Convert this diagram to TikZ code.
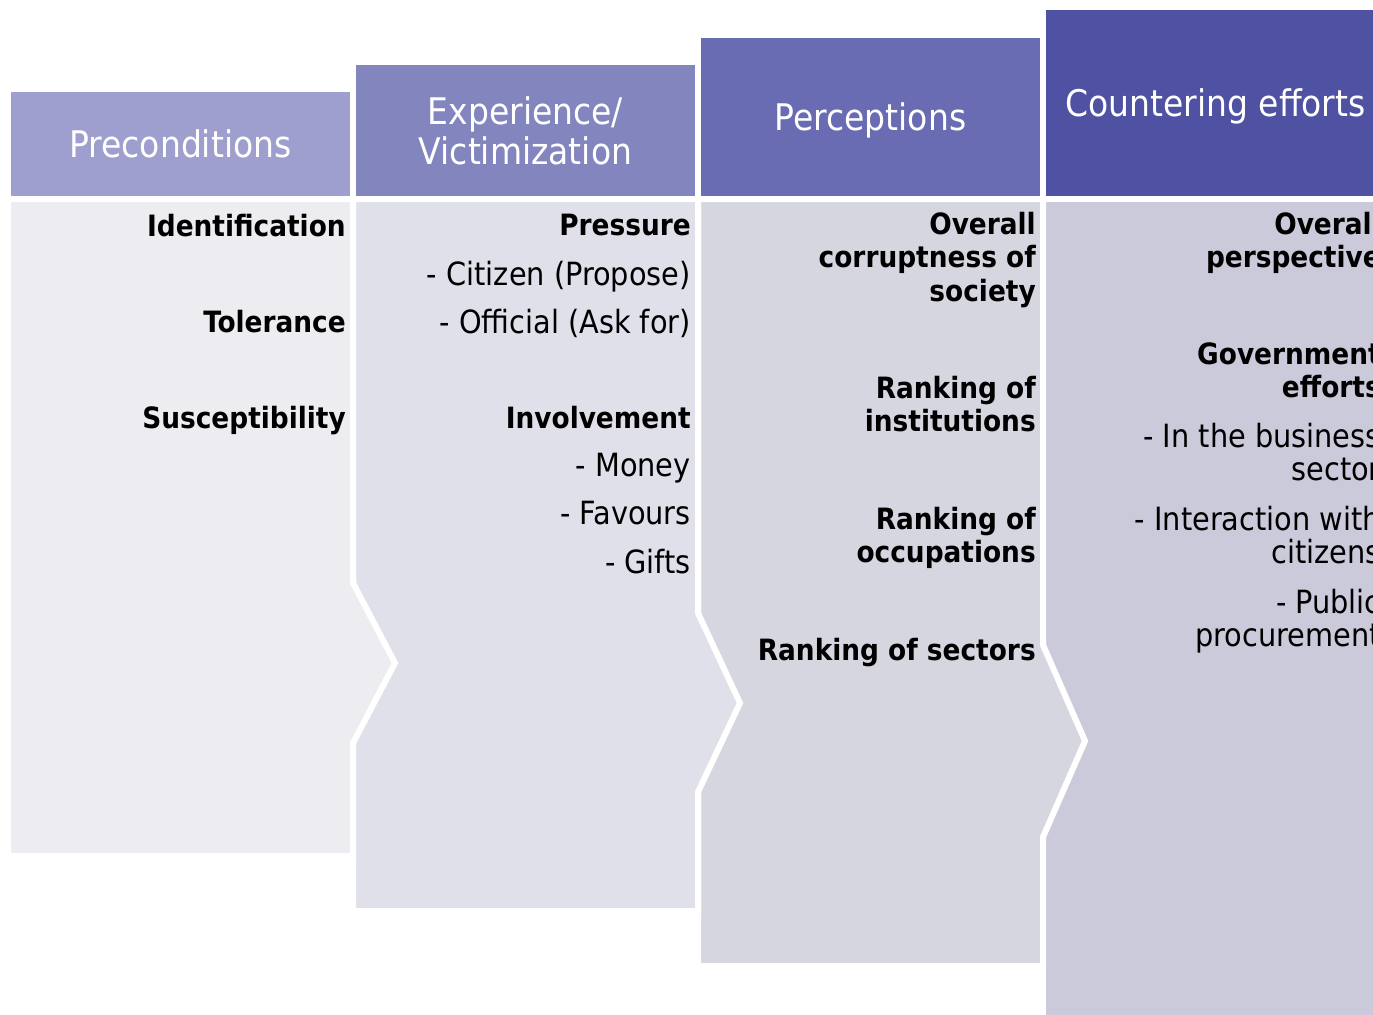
\documentclass[tikz,border=0pt]{standalone}
\usepackage{fontspec}
\setmainfont{DejaVu Sans Condensed}

\definecolor{headA}{HTML}{9E9FCE}
\definecolor{headB}{HTML}{8385BE}
\definecolor{headC}{HTML}{6A6CB3}
\definecolor{headD}{HTML}{4F52A3}
\definecolor{bodyA}{HTML}{ECECF1}
\definecolor{bodyB}{HTML}{E0E0EA}
\definecolor{bodyC}{HTML}{D6D6E1}
\definecolor{bodyD}{HTML}{CBCADA}

\begin{document}
\begin{tikzpicture}[x=0.75pt, y=-0.75pt,
    gap/.style={draw=white, line width=4.5pt, line join=miter},
    head/.style={gap, text=white, minimum width=258.75pt, inner sep=0pt,
        align=center, font=\fontsize{27.5}{30}\selectfont},
    topic/.style={anchor=east, inner sep=0pt, align=right,
        font=\fontsize{22}{25}\selectfont\bfseries},
    sub/.style={anchor=east, inner sep=0pt, align=right,
        font=\fontsize{24}{25}\selectfont},
    flat/.style={text depth=0pt}]
    \useasboundingbox (0,0) rectangle (1373,1014);
    \fill[white] (0,0) rectangle (1373,1014);
    \clip (0,0) rectangle (1373,1014);

    % bodies, last one first so each tip lies over its neighbour
    \path[gap, fill=bodyD] (1043,199) -- (1388,199) -- (1388,1030) -- (1043,1030) -- cycle;
    \path[gap, fill=bodyC] (698,199) -- (1043,199) -- (1043,645) -- (1085,741)
        -- (1043,837) -- (1043,966) -- (698,966) -- cycle;
    \path[gap, fill=bodyB] (353,199) -- (698,199) -- (698,613) -- (740,703)
        -- (698,792) -- (698,911) -- (353,911) -- cycle;
    \path[gap, fill=bodyA] (8,199) -- (353,199) -- (353,583) -- (395,663)
        -- (353,743) -- (353,856) -- (8,856) -- cycle;

    % headers
    \node[head, fill=headA, minimum height=82.5pt] (pre) at (180.5,144) {Preconditions};
    \node[head, fill=headB, minimum height=102.75pt] (exp) at (525.5,130.5) {Experience/\\Victimization};
    \node[head, flat, fill=headC, minimum height=123pt] (per) at (870.5,117) {Perceptions};
    \node[head, flat, fill=headD, minimum height=144pt] (cnt) at (1215.5,103) {Countering efforts};

    % preconditions
    \node[topic, flat] (ident) at (346,225) {Identification};
    \node[topic, flat] (toler) at (346,321) {Tolerance};
    \node[topic, flat] (susc) at (346,417) {Susceptibility};

    % experience
    \node[topic, flat] (press) at (691,225) {Pressure};
    \node[sub, flat] (citz) at (691,273) {- Citizen (Propose)};
    \node[sub, flat] (offc) at (691,321) {- Official (Ask for)};
    \node[topic, flat] (invol) at (691,417) {Involvement};
    \node[sub, flat] (money) at (691,465) {- Money};
    \node[sub, flat] (favr) at (691,513) {- Favours};
    \node[sub, flat] (gifts) at (691,561) {- Gifts};

    % perceptions
    \node[topic] (corr) at (1036,260) {Overall\\corruptness of\\society};
    \node[topic] (inst) at (1036,404) {Ranking of\\institutions};
    \node[topic] (occ) at (1036,538) {Ranking of\\occupations};
    \node[topic, flat] (sect) at (1036,649) {Ranking of sectors};

    % countering efforts
    \node[topic] (persp) at (1381,243) {Overall\\perspective};
    \node[topic] (govt) at (1381,370) {Government\\efforts};
    \node[sub] (busi) at (1381,452) {- In the business\\sector};
    \node[sub] (inter) at (1381,535) {- Interaction with\\citizens};
    \node[sub] (proc) at (1381,621) {- Public\\procurement};
\end{tikzpicture}
\end{document}
